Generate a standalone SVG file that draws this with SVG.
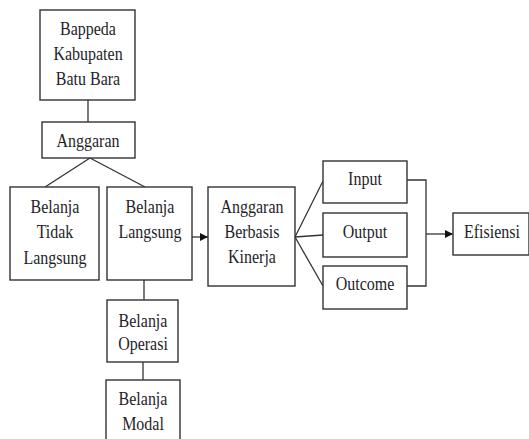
<svg xmlns="http://www.w3.org/2000/svg" width="529" height="439" viewBox="0 0 529 439">
<defs>
<style>
.box{fill:#fff;stroke:#333;stroke-width:1.4}
.ln{fill:none;stroke:#333;stroke-width:1.3}
.t{font-family:'Liberation Serif','Times New Roman',serif;font-size:16px;fill:#1e1e28;text-anchor:middle}
</style>
<marker id="arr" viewBox="0 0 10 10" refX="10" refY="5" markerWidth="8" markerHeight="8" markerUnits="userSpaceOnUse" orient="auto">
<path d="M0,0 L10,5 L0,10 z" fill="#111"/>
</marker>
</defs>
<rect width="529" height="439" fill="#fff"/>
<g id="connectors">
<line class="ln" x1="88" y1="100" x2="88" y2="122"/>
<line class="ln" x1="90" y1="158" x2="45" y2="187"/>
<line class="ln" x1="90" y1="158" x2="145" y2="187"/>
<line class="ln" x1="144" y1="280" x2="144" y2="300"/>
<line class="ln" x1="143" y1="362" x2="143" y2="380"/>
<line class="ln" x1="192" y1="237" x2="208" y2="237" marker-end="url(#arr)"/>
<line class="ln" x1="295" y1="237" x2="323" y2="181"/>
<line class="ln" x1="295" y1="237" x2="323" y2="235"/>
<line class="ln" x1="295" y1="237" x2="323" y2="286"/>
<polyline class="ln" points="407,180 426,180 426,286 407,286"/>
<line class="ln" x1="426" y1="234" x2="453" y2="234" marker-end="url(#arr)"/>
</g>
<g id="bappeda"><rect class="box" x="40" y="10" width="95" height="90"/>
<text class="t" transform="translate(88,35) scale(1,1.2)">Bappeda</text><text class="t" transform="translate(88,60) scale(1,1.2)">Kabupaten</text><text class="t" transform="translate(88,85) scale(1,1.2)">Batu Bara</text></g>
<g id="anggaran"><rect class="box" x="42" y="122" width="93" height="36"/>
<text class="t" transform="translate(88,147) scale(1,1.2)">Anggaran</text></g>
<g id="belanja-tidak-langsung"><rect class="box" x="10" y="187" width="89" height="93"/>
<text class="t" transform="translate(55,213) scale(1,1.2)">Belanja</text><text class="t" transform="translate(55,238) scale(1,1.2)">Tidak</text><text class="t" transform="translate(55,264) scale(1,1.2)">Langsung</text></g>
<g id="belanja-langsung"><rect class="box" x="107" y="187" width="85" height="93"/>
<text class="t" transform="translate(150,213) scale(1,1.2)">Belanja</text><text class="t" transform="translate(150,238) scale(1,1.2)">Langsung</text></g>
<g id="anggaran-berbasis-kinerja"><rect class="box" x="208" y="187" width="87" height="99"/>
<text class="t" transform="translate(252,213) scale(1,1.2)">Anggaran</text><text class="t" transform="translate(252,238) scale(1,1.2)">Berbasis</text><text class="t" transform="translate(252,263) scale(1,1.2)">Kinerja</text></g>
<g id="belanja-operasi"><rect class="box" x="107" y="300" width="71" height="62"/>
<text class="t" transform="translate(143,327) scale(1,1.2)">Belanja</text><text class="t" transform="translate(143,350) scale(1,1.2)">Operasi</text></g>
<g id="belanja-modal"><rect class="box" x="106" y="380" width="74" height="62"/>
<text class="t" transform="translate(143,405) scale(1,1.2)">Belanja</text><text class="t" transform="translate(143,430) scale(1,1.2)">Modal</text></g>
<g id="input"><rect class="box" x="323" y="161" width="84" height="42"/>
<text class="t" transform="translate(365,185) scale(1,1.2)">Input</text></g>
<g id="output"><rect class="box" x="323" y="213" width="84" height="44"/>
<text class="t" transform="translate(365,238) scale(1,1.2)">Output</text></g>
<g id="outcome"><rect class="box" x="323" y="266" width="84" height="43"/>
<text class="t" transform="translate(365,290) scale(1,1.2)">Outcome</text></g>
<g id="efisiensi"><rect class="box" x="453" y="213" width="76" height="42"/>
<text class="t" transform="translate(492,238) scale(1,1.2)">Efisiensi</text></g>
</svg>
